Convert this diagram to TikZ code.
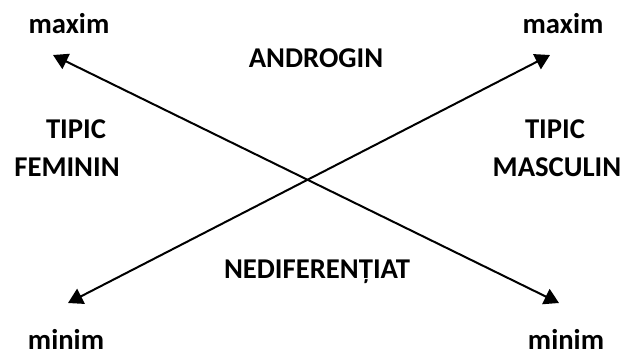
\documentclass[tikz,border=0pt]{standalone}
\usepackage{fontspec}
\setmainfont{Carlito}
\usetikzlibrary{arrows.meta}

\begin{document}
\begin{tikzpicture}[line cap=round,line join=round,x=0.75pt,y=-0.75pt,
    lbl/.style={anchor=base,inner sep=0pt,font=\fontsize{21.5}{25}\selectfont\bfseries},
    axe/.style={line width=1.5pt,{Triangle[length=11pt,width=12.5pt]}-{Triangle[length=11pt,width=12.5pt]}}]
                \useasboundingbox (0,0) rectangle (622,355);
                % capetele sagetilor
                \coordinate (fmax) at (53,55);
                \coordinate (mmin) at (559,303);
                \coordinate (fmin) at (68,303);
                \coordinate (mmax) at (550,55);
                \draw [axe] (fmax)-- (mmin);
                \draw [axe] (fmin)-- (mmax);
                % etichete
                \node[lbl] (maxf) at (69,33) {maxim};
                \node[lbl] (maxm) at (563,33) {maxim};
                \node[lbl] (minf) at (66,349) {minim};
                \node[lbl] (minm) at (566,349) {minim};
                \node[lbl] (andro) at (316,67) {ANDROGIN};
                \node[lbl] (tipf) at (76,138) {TIPIC};
                \node[lbl] (femi) at (67,176) {FEMININ};
                \node[lbl] (tipm) at (555,138) {TIPIC};
                \node[lbl] (masc) at (557,176) {MASCULIN};
                \node[lbl] (nedif) at (317,278) {NEDIFEREN\symbol{"021A}IAT};
            \end{tikzpicture}
\end{document}
